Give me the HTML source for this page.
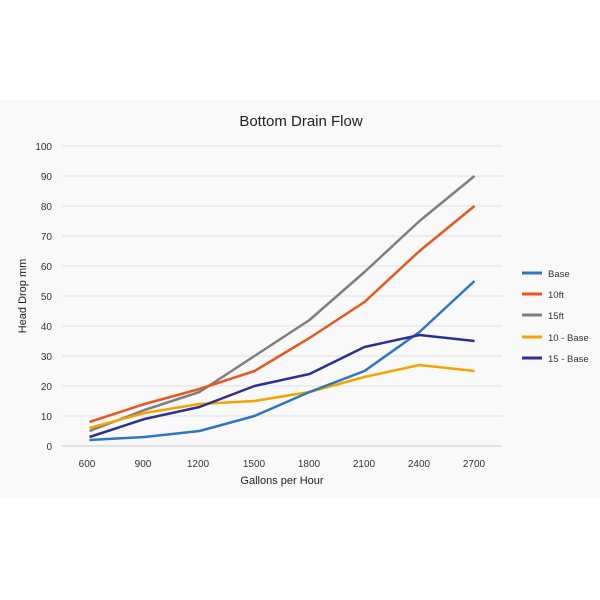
<!DOCTYPE html>
<html><head><style>body{margin:0;background:#fff}svg{display:block}</style></head><body>
<svg width="600" height="600" xmlns="http://www.w3.org/2000/svg" font-family="Liberation Sans, sans-serif">
<rect x="0" y="100" width="600" height="398" fill="#f9f9f9"/>
<text x="301" y="126" font-size="15" text-anchor="middle" fill="#222">Bottom Drain Flow</text>
<g stroke="#e0e0e0" stroke-width="1">
<line x1="62" x2="502" y1="146" y2="146"/><line x1="62" x2="502" y1="176" y2="176"/><line x1="62" x2="502" y1="206" y2="206"/><line x1="62" x2="502" y1="236" y2="236"/><line x1="62" x2="502" y1="266" y2="266"/><line x1="62" x2="502" y1="296" y2="296"/><line x1="62" x2="502" y1="326" y2="326"/><line x1="62" x2="502" y1="356" y2="356"/><line x1="62" x2="502" y1="386" y2="386"/><line x1="62" x2="502" y1="416" y2="416"/><line x1="62" x2="502" y1="446" y2="446" stroke="#ccc"/>
</g>
<g font-size="10" fill="#333" text-anchor="end">
<text x="52" y="150">100</text><text x="52" y="180">90</text><text x="52" y="210">80</text><text x="52" y="240">70</text><text x="52" y="270">60</text><text x="52" y="300">50</text><text x="52" y="330">40</text><text x="52" y="360">30</text><text x="52" y="390">20</text><text x="52" y="420">10</text><text x="52" y="450">0</text>
</g>
<g font-size="10" fill="#333" text-anchor="middle">
<text x="87" y="467">600</text><text x="143" y="467">900</text><text x="198" y="467">1200</text><text x="254" y="467">1500</text><text x="309" y="467">1800</text><text x="364" y="467">2100</text><text x="419" y="467">2400</text><text x="474" y="467">2700</text>
</g>
<text x="282" y="484" font-size="11" text-anchor="middle" fill="#222">Gallons per Hour</text>
<text transform="translate(26,296) rotate(-90)" font-size="11" text-anchor="middle" fill="#222">Head Drop mm</text>
<g fill="none" stroke-width="2.5" stroke-linejoin="round">
<polyline stroke="#7f7f7f" points="89.5,431 144.5,410 199.5,392 254.5,356 309.5,320 364.5,272 419.5,221 474.5,176"/>
<polyline stroke="#e8571f" points="89.5,422 144.5,404 199.5,389 254.5,371 309.5,338 364.5,302 419.5,251 474.5,206"/>
<polyline stroke="#f4a300" points="89.5,428 144.5,413 199.5,404 254.5,401 309.5,392 364.5,377 419.5,365 474.5,371"/>
<polyline stroke="#2e75c4" points="89.5,440 144.5,437 199.5,431 254.5,416 309.5,392 364.5,371 419.5,332 474.5,281"/>
<polyline stroke="#2e3192" points="89.5,437 144.5,419 199.5,407 254.5,386 309.5,374 364.5,347 419.5,335 474.5,341"/>
</g>
<g stroke-width="3">
<line x1="522" x2="542" y1="273" y2="273" stroke="#2e75c4"/>
<line x1="522" x2="542" y1="294" y2="294" stroke="#e8571f"/>
<line x1="522" x2="542" y1="315" y2="315" stroke="#7f7f7f"/>
<line x1="522" x2="542" y1="337" y2="337" stroke="#f4a300"/>
<line x1="522" x2="542" y1="358" y2="358" stroke="#2e3192"/>
</g>
<g font-size="9.5" fill="#333">
<text x="548" y="277">Base</text><text x="548" y="298">10ft</text><text x="548" y="319">15ft</text><text x="548" y="341">10 - Base</text><text x="548" y="362">15 - Base</text>
</g>
</svg>
</body></html>
